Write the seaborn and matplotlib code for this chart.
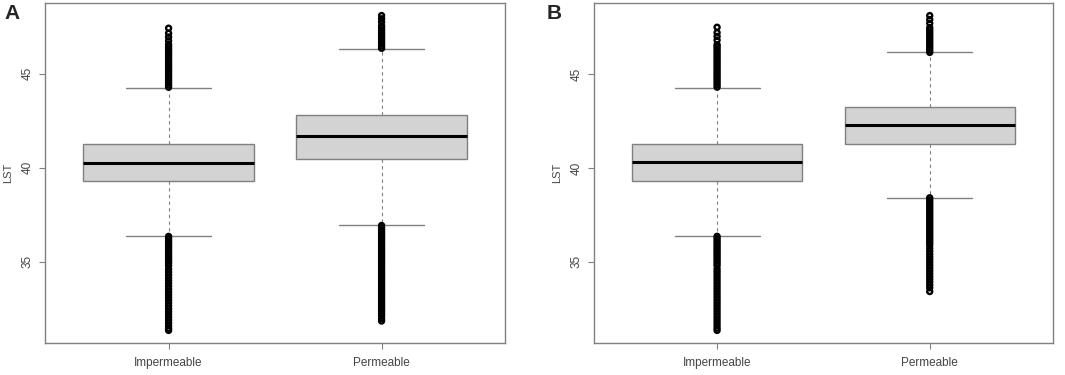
import matplotlib
matplotlib.use("Agg")
import matplotlib.pyplot as plt
import seaborn as sns
import pandas as pd

sns.set_style("white")
plt.rcParams['font.family'] = ['Liberation Sans', 'DejaVu Sans']

groups = ["Impermeable", "Permeable"]

# 패널 A 박스 요약값
a_q1 = [39.29, 40.46]
a_med = [40.26, 41.69]
a_q3 = [41.27, 42.78]
a_whislo = [36.37, 36.93]
a_whishi = [44.25, 46.33]

# 패널 B 박스 요약값
b_q1 = [39.33, 41.30]
b_med = [40.30, 42.27]
b_q3 = [41.30, 43.24]
b_whislo = [36.38, 38.41]
b_whishi = [44.28, 46.15]

# 이상치
a_imp_hi = [44.28, 44.4, 44.52, 44.64, 44.76, 44.88, 45.0, 45.12, 45.24, 45.36, 45.48,
            45.6, 45.72, 45.84, 45.96, 46.08, 46.2, 46.32, 46.44, 46.56, 46.75, 46.95,
            47.15, 47.42]
a_imp_lo = [36.35, 36.23, 36.11, 35.99, 35.87, 35.75, 35.63, 35.51, 35.39, 35.27, 35.15,
            35.03, 34.91, 34.79, 34.6, 34.45, 34.3, 34.15, 34.0, 33.85, 33.7, 33.55, 33.4,
            33.25, 33.1, 32.95, 32.8, 32.65, 32.5, 32.35, 32.2, 32.05, 31.9, 31.75, 31.6,
            31.45, 31.35]
a_per_hi = [46.35, 46.47, 46.59, 46.71, 46.83, 46.95, 47.07, 47.19, 47.31, 47.43, 47.55,
            47.75, 47.92, 48.09]
a_per_lo = [36.93, 36.81, 36.69, 36.57, 36.45, 36.33, 36.21, 36.09, 35.97, 35.85, 35.73,
            35.61, 35.49, 35.37, 35.25, 35.13, 35.01, 34.89, 34.77, 34.65, 34.53, 34.41,
            34.29, 34.17, 34.05, 33.93, 33.81, 33.69, 33.57, 33.45, 33.33, 33.21, 33.09,
            32.97, 32.85, 32.73, 32.61, 32.49, 32.37, 32.25, 32.13, 31.98, 31.85]
b_imp_hi = [44.3, 44.42, 44.54, 44.66, 44.78, 44.9, 45.02, 45.14, 45.26, 45.38, 45.5,
            45.62, 45.74, 45.86, 45.98, 46.1, 46.22, 46.34, 46.46, 46.56, 46.8, 47.0,
            47.2, 47.49]
b_imp_lo = [36.36, 36.24, 36.12, 36.0, 35.88, 35.76, 35.64, 35.52, 35.4, 35.28, 35.16,
            35.04, 34.92, 34.8, 34.62, 34.47, 34.32, 34.17, 34.02, 33.87, 33.72, 33.57,
            33.42, 33.27, 33.12, 32.97, 32.82, 32.67, 32.52, 32.37, 32.22, 32.07, 31.92,
            31.77, 31.62, 31.47, 31.35]
b_per_hi = [46.15, 46.27, 46.39, 46.51, 46.63, 46.75, 46.87, 46.99, 47.11, 47.23, 47.35,
            47.47, 47.7, 47.9, 48.11]
b_per_lo = [38.41, 38.29, 38.17, 38.05, 37.93, 37.81, 37.69, 37.57, 37.45, 37.33, 37.21,
            37.09, 36.97, 36.85, 36.73, 36.61, 36.49, 36.37, 36.25, 36.13, 36.01, 35.89,
            35.72, 35.57, 35.42, 35.27, 35.12, 34.97, 34.82, 34.67, 34.52, 34.37, 34.22,
            34.07, 33.92, 33.77, 33.62, 33.42]

edge = '#808080'
txt = '#444444'


def draw_panel(ax, q1, med, q3, wlo, whi, fliers):
    stats = []
    for i, g in enumerate(groups):
        stats.append({'label': g, 'q1': q1[i], 'med': med[i], 'q3': q3[i],
                      'whislo': wlo[i], 'whishi': whi[i], 'fliers': []})
    ax.bxp(stats, positions=[1, 2], widths=0.8, capwidths=0.4, patch_artist=True,
           showfliers=False,
           boxprops=dict(facecolor='#d3d3d3', edgecolor=edge, linewidth=1.0),
           medianprops=dict(color='black', linewidth=2.2),
           whiskerprops=dict(color=edge, linewidth=0.8, linestyle=(0, (3, 3))),
           capprops=dict(color=edge, linewidth=1.0))

    # 이상치 점
    rows = []
    for i, g in enumerate(groups):
        for v in fliers[i]:
            rows.append({'pos': i + 1, 'LST': v})
    fl = pd.DataFrame(rows)
    sns.scatterplot(data=fl, x='pos', y='LST', ax=ax, marker='o', s=13,
                    facecolor='none', edgecolor='black', linewidth=1.7, zorder=3)

    allv = [v for f in fliers for v in f]
    lo, hi = min(allv), max(allv)
    r = hi - lo
    ax.set_ylim(lo - 0.04 * r, hi + 0.04 * r)
    ax.set_xlim(0.42, 2.58)
    ax.set_xticks([1, 2])
    ax.set_xticklabels(groups)
    ax.set_yticks([35, 40, 45])
    ax.set_yticklabels(['35', '40', '45'], rotation=90, va='center')
    ax.tick_params(axis='both', length=4, color=edge, labelcolor=txt, labelsize=8.5,
                   direction='out', left=True, bottom=True)
    ax.tick_params(axis='x', pad=6)
    ax.tick_params(axis='y', pad=4)
    ax.set_xlabel('')
    ax.set_ylabel('LST', color=txt, fontsize=8, labelpad=6)
    for sp in ax.spines.values():
        sp.set_color(edge)
        sp.set_linewidth(1.0)
        sp.set_visible(True)


fig = plt.figure(figsize=(10.65, 3.75), dpi=100)
ax_a = fig.add_axes([0.0423, 0.0853, 0.432, 0.9067])
ax_b = fig.add_axes([0.5575, 0.0853, 0.4313, 0.9067])

draw_panel(ax_a, a_q1, a_med, a_q3, a_whislo, a_whishi,
           [a_imp_hi + a_imp_lo, a_per_hi + a_per_lo])
draw_panel(ax_b, b_q1, b_med, b_q3, b_whislo, b_whishi,
           [b_imp_hi + b_imp_lo, b_per_hi + b_per_lo])

fig.text(0.004, 0.965, 'A', fontsize=15, fontweight='bold', va='center', ha='left')
fig.text(0.513, 0.965, 'B', fontsize=15, fontweight='bold', va='center', ha='left')

fig.savefig('out.png', dpi=100)
